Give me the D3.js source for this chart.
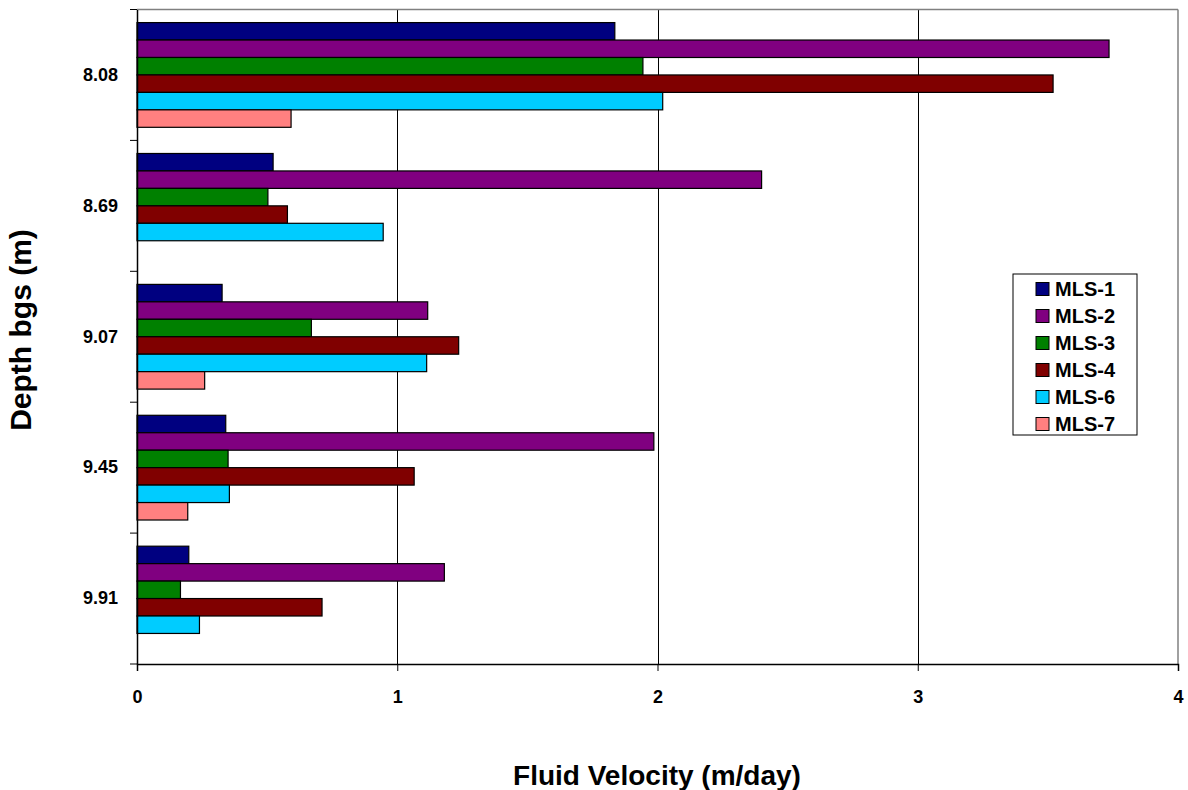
<!DOCTYPE html>
<html>
<head>
<meta charset="utf-8">
<script src="https://cdn.jsdelivr.net/npm/d3@7"></script>
<style>
  body { margin: 0; background: #fff; }
  text { font-family: Arial, "Liberation Sans", sans-serif; font-weight: bold; }
</style>
</head>
<body>
<svg id="chart" width="1188" height="790"></svg>
<script>
const depths = ["8.08", "8.69", "9.07", "9.45", "9.91"];
const seriesNames = ["MLS-1", "MLS-2", "MLS-3", "MLS-4", "MLS-6", "MLS-7"];
const seriesColors = ["#000080", "#800080", "#008000", "#800000", "#00CCFF", "#FF8080"];
const mls1 = [1.836, 0.523, 0.327, 0.341, 0.199];
const mls2 = [3.735, 2.400, 1.117, 1.986, 1.181];
const mls3 = [1.944, 0.503, 0.670, 0.350, 0.167];
const mls4 = [3.520, 0.578, 1.236, 1.065, 0.711];
const mls6 = [2.020, 0.946, 1.113, 0.355, 0.240];
const mls7 = [0.592, null, 0.260, 0.195, null];
const xTicks = [0, 1, 2, 3, 4];

const seriesValues = [mls1, mls2, mls3, mls4, mls6, mls7];

(function () {
const svg = d3.select("#chart");
const pL = 137, pR = 1178, pT = 9.5, pB = 664;
const FONT = "Arial, 'Liberation Sans', sans-serif";

const x = d3.scaleLinear().domain([0, 4]).range([pL, pR]);
const y = d3.scaleBand().domain(depths).range([pT, pB]).paddingInner(0).paddingOuter(0);

// gridlines
svg.append("g").selectAll("line").data(xTicks.filter(d => d > 0 && d < 4)).join("line")
  .attr("x1", d => Math.round(x(d)) + 0.5).attr("x2", d => Math.round(x(d)) + 0.5)
  .attr("y1", pT).attr("y2", pB)
  .attr("stroke", "#000").attr("stroke-width", 1);

// plot border (top/right gray)
svg.append("line").attr("x1", pL).attr("x2", pR).attr("y1", pT).attr("y2", pT)
  .attr("stroke", "#808080").attr("stroke-width", 1.5);
svg.append("line").attr("x1", pR).attr("x2", pR).attr("y1", pT).attr("y2", pB)
  .attr("stroke", "#808080").attr("stroke-width", 1.5);

// bars
const barW = y.bandwidth() / (6 + 1.5);
const offset = barW * 0.75;
seriesNames.forEach((name, si) => {
  const vals = seriesValues[si];
  svg.append("g").selectAll("rect")
    .data(depths.map((d, i) => ({ d, v: vals[i] })).filter(o => o.v != null))
    .join("rect")
    .attr("x", x(0))
    .attr("y", o => y(o.d) + offset + si * barW)
    .attr("width", o => x(o.v) - x(0))
    .attr("height", barW)
    .attr("fill", seriesColors[si])
    .attr("stroke", "#000").attr("stroke-width", 1.2);
});

// x axis
const xAxis = d3.axisBottom(x).tickValues(xTicks).tickSize(7).tickPadding(19).tickFormat(d3.format("d"));
const gx = svg.append("g").attr("transform", `translate(0,${pB})`).call(xAxis);
gx.select(".domain").attr("stroke", "#000").attr("stroke-width", 1.5);
gx.selectAll(".tick line").attr("stroke", "#000");
gx.selectAll("text").attr("font-size", 18).attr("font-weight", "bold").attr("fill", "#000")
  .attr("font-family", FONT);

// y axis
const gy = svg.append("g").attr("transform", `translate(${pL},0)`)
  .call(d3.axisLeft(y).tickSize(0).tickPadding(19));
gy.select(".domain").attr("stroke", "#000").attr("stroke-width", 1.5);
gy.selectAll("text").attr("font-size", 18).attr("font-weight", "bold").attr("fill", "#000")
  .attr("font-family", FONT);
// y tick marks at band boundaries
const bounds = depths.map(d => y(d)).concat([pB]);
svg.append("g").selectAll("line").data(bounds).join("line")
  .attr("x1", pL - 7).attr("x2", pL).attr("y1", d => d).attr("y2", d => d)
  .attr("stroke", "#000").attr("stroke-width", 1);

// axis titles
svg.append("text").attr("x", 657).attr("y", 785).attr("text-anchor", "middle")
  .attr("font-size", 28).text("Fluid Velocity (m/day)");
svg.append("text").attr("transform", "translate(31,330) rotate(-90)").attr("text-anchor", "middle")
  .attr("font-size", 30).text("Depth bgs (m)");

// legend
const lg = svg.append("g");
lg.append("rect").attr("x", 1013).attr("y", 274).attr("width", 124).attr("height", 161)
  .attr("fill", "#fff").attr("stroke", "#000").attr("stroke-width", 1);
seriesNames.forEach((name, i) => {
  const cy = 289 + i * 27;
  lg.append("rect").attr("x", 1036).attr("y", cy - 6.5).attr("width", 13).attr("height", 13)
    .attr("fill", seriesColors[i]).attr("stroke", "#000").attr("stroke-width", 1);
  lg.append("text").attr("x", 1055).attr("y", cy + 7).attr("font-size", 20).text(name);
});
})();
</script>
</body>
</html>
